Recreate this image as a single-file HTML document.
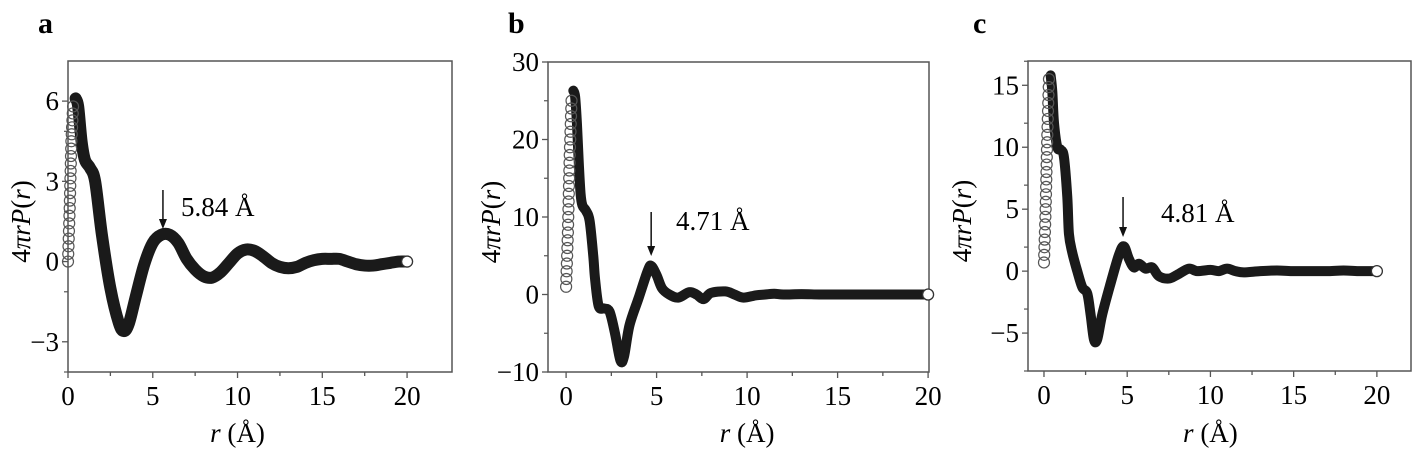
<!DOCTYPE html>
<html><head><meta charset="utf-8"><style>
body{margin:0;background:#fff}
svg{display:block}
svg text{font-family:"Liberation Serif","DejaVu Serif",serif}
</style></head><body>
<svg id="fig" width="1413" height="451" viewBox="0 0 1413 451">
<text x="38" y="33" font-size="30" font-weight="bold" font-family="Liberation Serif, serif">a</text>
<text x="508" y="33" font-size="30" font-weight="bold" font-family="Liberation Serif, serif">b</text>
<text x="973" y="33" font-size="30" font-weight="bold" font-family="Liberation Serif, serif">c</text>
</svg>
<script>
const aR=[0,0.1,0.2,0.3,0.45,0.6,0.8,1.0,1.3,1.6,2.0,2.5,3.0,3.3,3.6,4.0,4.5,5.0,5.5,6.0,6.5,7.0,7.5,8.0,8.5,9.0,9.5,10,10.5,11,11.5,12,12.5,13,13.5,14,14.5,15,15.5,16,16.5,17,17.5,18,18.5,19,19.5,20];
const aY=[0,2,4.5,5.8,6.1,5.8,4.5,3.8,3.5,3.0,1.0,-1.0,-2.3,-2.6,-2.3,-1.3,-0.1,0.7,1.0,1.0,0.7,0.1,-0.3,-0.55,-0.6,-0.4,-0.05,0.3,0.45,0.4,0.2,-0.05,-0.2,-0.25,-0.2,-0.05,0.05,0.1,0.1,0.1,0,-0.1,-0.15,-0.15,-0.1,-0.05,0,0];
const bR=[0,0.1,0.2,0.3,0.4,0.5,0.6,0.7,0.8,0.9,1.1,1.3,1.5,1.6,1.8,2.1,2.4,2.7,3.0,3.2,3.5,4.0,4.5,4.7,5.0,5.3,5.7,6.2,6.8,7.2,7.6,8.0,8.8,9.3,9.8,10.5,11,11.5,12,13,14,15,16,17,18,19,20];
const bY=[1,8,18,25,26.3,25.5,22,17,13,11.5,10.8,9.5,5,2,-1.5,-1.8,-2.2,-5,-8.5,-8,-4,-0.5,3,3.7,2.5,0.8,0,-0.4,0.3,0,-0.6,0.2,0.4,0,-0.4,-0.1,0,0.1,0,0.05,0,0,0,0,0,0,0];
const cR=[0,0.1,0.2,0.3,0.4,0.5,0.6,0.8,1.0,1.2,1.4,1.5,1.7,2.0,2.3,2.6,2.8,3.0,3.2,3.5,4.0,4.5,4.8,5.1,5.4,5.7,6.1,6.5,6.9,7.5,8.0,8.7,9.2,10,10.5,11,11.5,12,13,14,15,16,17,18,19,20];
const cY=[0.7,5,11,15.5,15.8,14.5,12,10,9.8,9.2,6,3,1.5,0,-1.3,-1.8,-3.5,-5.5,-5.5,-3.5,-1,1.3,2.0,1,0.3,0.6,0.2,0.3,-0.4,-0.6,-0.3,0.2,0,0.1,0,0.2,0,-0.1,0,0.05,0,0,0,0.05,0,0];
const aYTicks=[-3,0,3,6], bYTicks=[-10,0,10,20,30], cYTicks=[-5,0,5,10,15];
const xTicks=[0,5,10,15,20];
const aPeak=[5.6,"5.84 Å"], bPeak=[4.7,"4.71 Å"], cPeak=[4.75,"4.81 Å"];

const NS="http://www.w3.org/2000/svg";
const svg=document.getElementById('fig');
function mk(t,at,parent){const e=document.createElementNS(NS,t);for(const k in at)e.setAttribute(k,at[k]);if(t==='text'){e.setAttribute('font-family','Liberation Serif, serif');}(parent||svg).appendChild(e);return e;}
function smooth(p){let d=`M${p[0][0]},${p[0][1]}`;for(let i=0;i<p.length-1;i++){const p0=p[i-1]||p[i],p1=p[i],p2=p[i+1],p3=p[i+2]||p2;
  d+=` C${p1[0]+(p2[0]-p0[0])/6},${p1[1]+(p2[1]-p0[1])/6} ${p2[0]-(p3[0]-p1[0])/6},${p2[1]-(p3[1]-p1[1])/6} ${p2[0]},${p2[1]}`;}return d;}

function panel(id,box,xd,yd,R,Y,yTicks,yMinor,peakIdx,peak,arrowPx,textPx,lw,ylabX){
  const [L,T,Rt,B]=box;
  const sx=v=>L+(v-xd[0])/(xd[1]-xd[0])*(Rt-L);
  const sy=v=>B-(v-yd[0])/(yd[1]-yd[0])*(B-T);
  const g=mk('g',{});
  
  
  const fr=mk('rect',{x:L,y:T,width:Rt-L,height:B-T,fill:'none',stroke:'#555','stroke-width':1.5},g);
  
  
  for(let v=0;v<=20;v+=2.5){const x=sx(v);const maj=v%5===0;
    mk('line',{x1:x,y1:B,x2:x,y2:B+(maj?6:4),stroke:'#555','stroke-width':1.3},g);}
  xTicks.forEach(v=>{const t=mk('text',{x:sx(v),y:B+33,'font-size':27,'text-anchor':'middle'},g);t.textContent=v;
    
    });
  yTicks.forEach(v=>{const y=sy(v);mk('line',{x1:L-6,y1:y,x2:L,y2:y,stroke:'#555','stroke-width':1.3},g);
    const t=mk('text',{x:L-9,y:y+9,'font-size':27,'text-anchor':'end'},g);t.textContent=(v<0?'\u2212'+(-v):v);
    
    });
  for(let v=yd[0];v<=yd[1];v+=yMinor){if(Math.abs(Math.round(v/yMinor))%2===1){const y=sy(v);mk('line',{x1:L-4,y1:y,x2:L,y2:y,stroke:'#555','stroke-width':1.2},g);}}
  const xl=mk('text',{x:(sx(0)+sx(20))/2,y:442,'font-size':27,'text-anchor':'middle'},g);
  xl.innerHTML='<tspan font-style="italic">r</tspan> (Å)';
  
  
  const yl=mk('text',{x:0,y:0,'font-size':27,'text-anchor':'middle',transform:`translate(${ylabX},${(T+B)/2+5}) rotate(-90)`},g);
  yl.innerHTML='4<tspan font-style="italic">πrP</tspan>(<tspan font-style="italic">r</tspan>)';
  
  
  const pts=R.map((r,i)=>[sx(r),sy(Y[i])]);
  const rise=pts.slice(0,peakIdx+1), rest=pts.slice(peakIdx);
  const ds=mk('path',{d:smooth(rest),fill:'none',stroke:'#1a1a1a','stroke-width':lw,'stroke-linejoin':'round','stroke-linecap':'round'},g);
  
  
  for(let i=0;i<rise.length-1;i++){const [x1,y1]=rise[i],[x2,y2]=rise[i+1];const d=Math.hypot(x2-x1,y2-y1);const n=Math.max(1,Math.round(d/7.5));
    for(let k=0;k<n;k++){const c=mk('circle',{cx:x1+(x2-x1)*k/n,cy:y1+(y2-y1)*k/n,r:5.5,fill:'none',stroke:'#555','stroke-width':1.2},g);
      
      }}
  const last=pts[pts.length-1];
  const e=mk('circle',{cx:last[0],cy:last[1],r:5.5,fill:'#fff',stroke:'#333','stroke-width':1.3},g);
  
  
  const ax=sx(peak[0]);
  const ar=mk('g',{},g);
  
  
  mk('line',{x1:ax,y1:arrowPx[0],x2:ax,y2:arrowPx[1]-8,stroke:'#111','stroke-width':1.5},ar);
  mk('polygon',{points:`${ax-4},${arrowPx[1]-10} ${ax+4},${arrowPx[1]-10} ${ax},${arrowPx[1]}`,fill:'#111'},ar);
  const pt=mk('text',{x:textPx[0],y:textPx[1],'font-size':27},g);pt.textContent=peak[1];
  
  
}
panel('a',[68,61,452,372],[0,22.65],[-4.13,7.5],aR,aY,aYTicks,1.5,4,aPeak,[190,229],[181,216],12,30);
panel('b',[548,62,929,372],[-1,20.05],[-10,30],bR,bY,bYTicks,5,4,bPeak,[212,256],[676,230],10,500);
panel('c',[1028,61,1411,371],[-0.96,22.05],[-8.06,16.96],cR,cY,cYTicks,2.5,4,cPeak,[197,237],[1161,222],10,971);
</script>
</body></html>
